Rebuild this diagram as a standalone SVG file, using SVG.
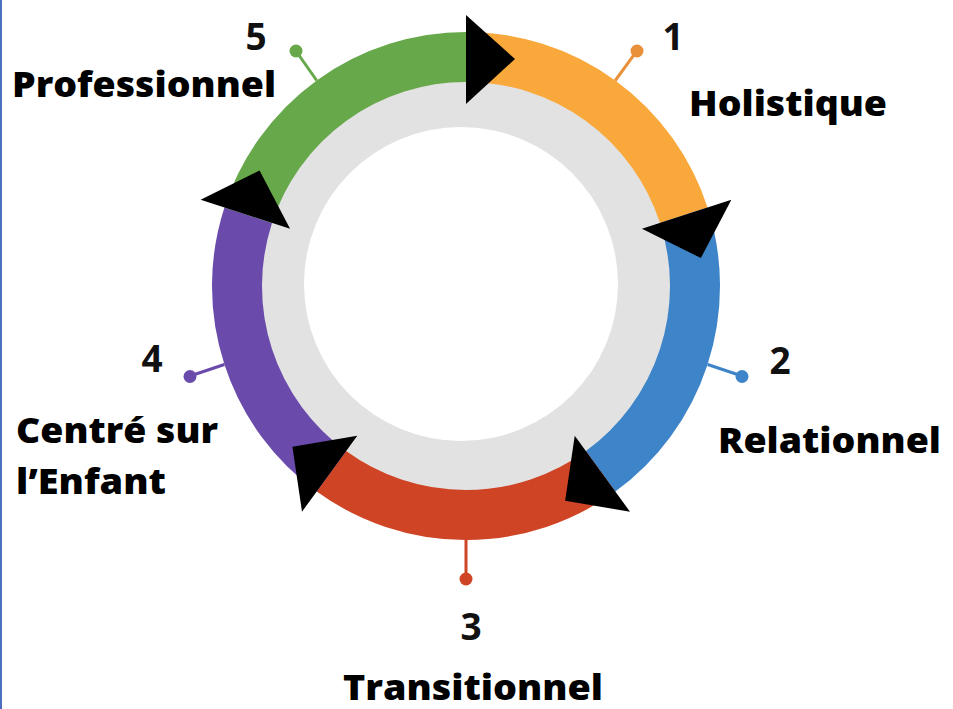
<svg xmlns="http://www.w3.org/2000/svg" width="953" height="709" viewBox="0 0 953 709">
<defs>
<style>
.seg{fill:none;stroke-width:50}
.arrow{fill:#000}
.lbl{font-family:"Open Sans","Liberation Sans",sans-serif;font-weight:800;font-size:35px;fill:#000}
.num{font-family:"Open Sans","Liberation Sans",sans-serif;font-weight:700;font-size:37px;fill:#111;text-anchor:middle}
.stem{stroke-width:3}
</style>
</defs>
<rect x="0" y="0" width="953" height="709" fill="#fff"/>
<rect x="0" y="0" width="2" height="709" fill="#4a6fc0"/>
<g id="ring">
<circle cx="466" cy="286" r="206" fill="#e2e2e2"/>
<circle cx="461" cy="284" r="157" fill="#fff"/>
</g>
<g id="seg1"><path class="seg" stroke="#f9a83b" d="M466,57 A229,229 0 0 1 683.79,215.23"/></g>
<g id="seg2"><path class="seg" stroke="#3d84c8" d="M683.79,215.23 A229,229 0 0 1 600.6,471.27"/></g>
<g id="seg3"><path class="seg" stroke="#cf4424" d="M600.6,471.27 A229,229 0 0 1 331.4,471.27"/></g>
<g id="seg4"><path class="seg" stroke="#6a4aab" d="M331.4,471.27 A229,229 0 0 1 248.21,215.23"/></g>
<g id="seg5"><path class="seg" stroke="#67a84b" d="M248.21,215.23 A229,229 0 0 1 466,57"/></g>
<g id="connectors">
<polygon class="arrow" points="466,15 466,104 515,59"/>
<polygon class="arrow" points="731.35,199.79 641.95,228.83 700.86,258.06"/>
<polygon class="arrow" points="630,511.71 574.74,435.67 565.16,500.73"/>
<polygon class="arrow" points="302,511.71 357.26,435.67 292.42,446.65"/>
<polygon class="arrow" points="200.65,199.79 290.05,228.83 259.56,170.56"/>
</g>
<g id="node1">
<line class="stem" x1="615.3" y1="80.5" x2="637" y2="50.6" stroke="#e8913a"/>
<circle cx="637" cy="51" r="6.5" fill="#e8913a"/>
<text class="num" x="673" y="50">1</text>
<text class="lbl" x="689" y="116" textLength="198" lengthAdjust="spacingAndGlyphs">Holistique</text>
</g>
<g id="node2">
<line class="stem" x1="707.6" y1="364.5" x2="742" y2="376" stroke="#3d84c8"/>
<circle cx="742" cy="376.5" r="6.5" fill="#3d84c8"/>
<text class="num" x="780" y="374">2</text>
<text class="lbl" x="718" y="453" textLength="223" lengthAdjust="spacingAndGlyphs">Relationnel</text>
</g>
<g id="node3">
<line class="stem" x1="466" y1="540" x2="466" y2="578" stroke="#cf4424"/>
<circle cx="466" cy="579" r="6.5" fill="#cf4424"/>
<text class="num" x="471" y="640">3</text>
<text class="lbl" x="343" y="700" textLength="260" lengthAdjust="spacingAndGlyphs">Transitionnel</text>
</g>
<g id="node4">
<line class="stem" x1="224.4" y1="364.5" x2="190" y2="376" stroke="#6a4aab"/>
<circle cx="190" cy="376.5" r="6.5" fill="#6a4aab"/>
<text class="num" x="152" y="372">4</text>
<text class="lbl" x="16" y="443" textLength="202" lengthAdjust="spacingAndGlyphs">Centré sur</text>
<text class="lbl" x="16" y="494" textLength="150" lengthAdjust="spacingAndGlyphs">l’Enfant</text>
</g>
<g id="node5">
<line class="stem" x1="316.7" y1="80.5" x2="296" y2="51" stroke="#67a84b"/>
<circle cx="296" cy="51" r="6.5" fill="#67a84b"/>
<text class="num" x="256" y="50">5</text>
<text class="lbl" x="12" y="97" textLength="264" lengthAdjust="spacingAndGlyphs">Professionnel</text>
</g>
</svg>
